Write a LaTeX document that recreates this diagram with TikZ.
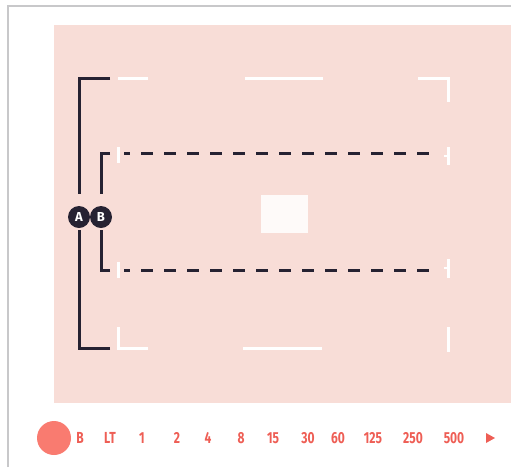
\documentclass[tikz,border=0pt]{standalone}
\usepackage{fontspec}
\setmainfont{Fira Sans}
\newfontfamily\dialfont[FakeStretch=0.75]{Fira Sans}
\definecolor{panelpink}{HTML}{F8DDD7}
\definecolor{framegray}{HTML}{C8C8CA}
\definecolor{markink}{HTML}{262232}
\definecolor{dialred}{HTML}{EE5E55}
\definecolor{dotred}{HTML}{F97B70}
\usepackage{tikz}
\usetikzlibrary{positioning, calc}

\begin{document}
\begin{tikzpicture}[x=1pt, y=-1pt,
  framemark/.style={line width=3pt, white},
  bracket/.style={line width=3pt, markink},
  badge/.style={circle, fill=markink, inner sep=0pt, minimum size=22pt,
    text=white, font=\bfseries\fontsize{13}{13}\selectfont},
  speed/.style={text=dialred, font=\dialfont\bfseries\fontsize{16}{16}\selectfont, inner sep=0pt}]
  \useasboundingbox (0,0) rectangle (511,467);
  % outer frame
  \draw[framegray, line width=1.5pt] (8,467) -- (8,6) -- (511,6);
  % viewfinder panel
  \fill[panelpink] (54,25) rectangle (511,403);
  % full frame marks
  \draw[framemark] (118,78) -- (148,78);
  \draw[framemark] (245,78) -- (323,78);
  \draw[framemark] (418,78) -- (448,78) -- (448,102);
  \draw[framemark] (118,327) -- (118,348) -- (148,348);
  \draw[framemark] (243,348) -- (322,348);
  \draw[framemark] (448,327) -- (448,352);
  % inner frame marks
  \draw[framemark] (118,147) -- (118,163);
  \draw[framemark] (118,262) -- (118,278);
  \draw[framemark] (448,147) -- (448,165);
  \draw[framemark, line width=2pt] (444,156) -- (448,156);
  \draw[framemark] (448,259) -- (448,278);
  \draw[framemark, line width=2pt] (444,268) -- (448,268);
  % focus spot
  \fill[white!85!panelpink] (261,195) rectangle (308,233);
  % badge anchors
  \coordinate (A) at (79,217);
  \coordinate (B) at (101,217);
  % bracket A
  \draw[bracket] (110,78) -| ([yshift=23pt]A);
  \draw[bracket] (110,348) -| ([yshift=-13pt]A);
  % bracket B with dashed inner frame
  \coordinate (btop) at (110,153);
  \coordinate (bbot) at (110,270);
  \draw[bracket] (btop) -| ([yshift=23pt]B);
  \draw[bracket] (bbot) -| ([yshift=-13pt]B);
  \draw[bracket, dash pattern=on 12pt off 11pt, dash phase=6pt] (124,153) -- (430,153);
  \draw[bracket, dash pattern=on 12pt off 11pt, dash phase=6pt] (124,270) -- (430,270);
  % badges
  \node[badge] (Abadge) at (A) {A};
  \node[badge] (Bbadge) at (B) {B};
  % shutter dial
  \fill[dotred] (54,438) circle (17pt);
  \foreach \x/\lab in {80/B, 110/LT, 142/1, 177/2, 208/4, 241/8, 273/15,
                       308/30, 338/60, 373/125, 413/250, 454/500}
    \node[speed] (s\lab) at (\x,438) {\lab};
  \fill[dialred] (486,433) -- (495,438) -- (486,443) -- cycle;
\end{tikzpicture}
\end{document}
